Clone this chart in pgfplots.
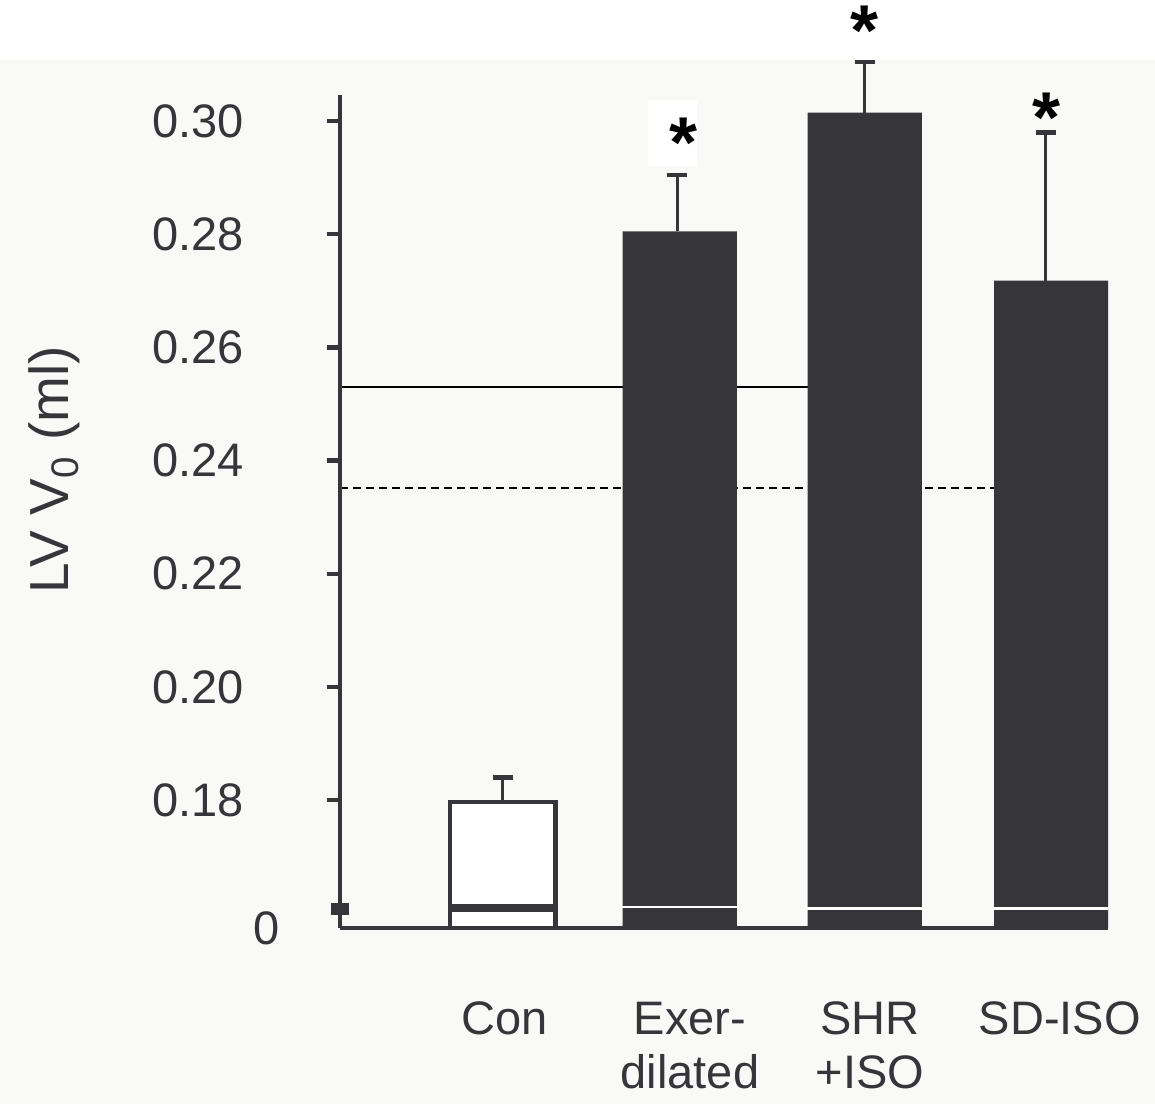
\documentclass[border=0pt]{standalone}
\usepackage{pgfplots}
\pgfplotsset{compat=1.18}
\usepackage{fontspec}
\setmainfont{Liberation Sans}
\definecolor{barc}{RGB}{54,53,58}
\definecolor{bgc}{RGB}{249,249,247}
\begin{document}
\begin{tikzpicture}
\useasboundingbox (-170pt,-88pt) rectangle (407.5pt,464pt);
\fill[white] (-170pt,-88pt) rectangle (407.5pt,464pt);
\fill[bgc] (-170pt,-88pt) rectangle (407.5pt,434pt);
\fill[white] (154pt,381pt) rectangle (178.5pt,414pt);
\pgfplotsset{
  common/.style={
    at={(0,0)}, anchor=south west, scale only axis,
    width=384pt, height=416.5pt,
    xmin=-0.89, xmax=3.31, ymin=0.1574, ymax=0.3046,
  }
}
\begin{axis}[common,
  axis x line*=bottom, axis y line*=left,
  axis line style={barc, line width=2pt},
  axis on top,
  xtick={0.012,1.024,2.008,3.047},
  xticklabels={Con, Exer-\\dilated, SHR\\+ISO, SD-ISO},
  x tick label style={align=center, anchor=north, yshift=-27pt, font=\fontsize{23.5}{27}\selectfont, text=barc},
  xtick style={draw=none},
  ytick={0.18,0.20,0.22,0.24,0.26,0.28,0.30},
  yticklabels={0.18,0.20,0.22,0.24,0.26,0.28,0.30},
  y tick label style={font=\fontsize{23.5}{27}\selectfont, xshift=-38pt, text=barc},
  tick align=outside, major tick length=6.5pt,
  ytick style={barc, line width=2.2pt},
  extra y ticks={0.1608}, extra y tick labels={0},
  extra y tick style={tick align=center, major tick length=9pt,
     ytick style={barc, line width=6pt},
     yticklabel style={yshift=-10pt, xshift=16pt}},
  ylabel={LV V\textsubscript{0} (ml)},
  every axis y label/.style={at={(axis description cs:-0.372,0.55)}, rotate=90, anchor=center,
     font=\fontsize{27.5}{31}\selectfont, text=barc},
  /pgf/number format/assume math mode=true,
]
% reference lines
\addplot[sharp plot, black, line width=1pt] coordinates {(-0.89,0.253) (2.254,0.253)};
\addplot[sharp plot, black, line width=1pt, dash pattern=on 4pt off 2.5pt] coordinates {(-0.89,0.2352) (2.91,0.2352)};
% bars
\addplot[ybar, bar width=0.578, bar shift=0pt, fill=white, draw=barc, line width=2.2pt] coordinates {(0,0.1797)};
\addplot[ybar, bar width=0.625, bar shift=0pt, fill=barc, draw=none] coordinates {(0.968,0.2805) (1.98,0.3015) (3,0.2718)};
% axis-break marks across the bars
\addplot[sharp plot, barc, line width=4pt] coordinates {(-0.30,0.1610) (0.30,0.1610)};
\addplot[sharp plot, white, line width=1.3pt] coordinates {(0.65,0.1611) (1.29,0.1611)};
\addplot[sharp plot, white, line width=1.3pt] coordinates {(1.66,0.1608) (2.30,0.1608)};
\addplot[sharp plot, white, line width=1.3pt] coordinates {(2.68,0.1609) (3.32,0.1609)};
\end{axis}
\begin{axis}[common, hide axis, clip=false]
\addplot[draw=none, mark=none, error bars/.cd, y dir=plus, y explicit,
  error bar style={draw=barc, line width=1.6pt},
  error mark options={rotate=90, mark size=5pt, line width=2.2pt, draw=barc}]
  coordinates {(0,0.1797) +- (0,0.0043) (0.955,0.2805) +- (0,0.0100) (1.98,0.3015) +- (0,0.0089) (2.97,0.2718) +- (0,0.0262)};
\node[font=\fontsize{36}{40}\selectfont\bfseries, yshift=-3pt] at (axis cs:0.986,0.2972) {*};
\node[font=\fontsize{36}{40}\selectfont\bfseries, yshift=-3pt] at (axis cs:1.981,0.3170) {*};
\node[font=\fontsize{36}{40}\selectfont\bfseries, yshift=-3pt] at (axis cs:2.976,0.3016) {*};
\end{axis}
\end{tikzpicture}
\end{document}
